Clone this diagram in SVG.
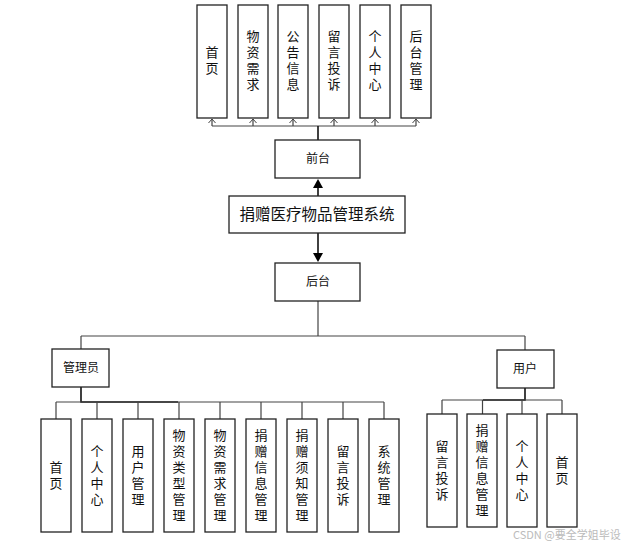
<svg xmlns="http://www.w3.org/2000/svg" width="632" height="546" viewBox="0 0 632 546">
<defs>
<style>
.box{fill:#fff;stroke:#222;stroke-width:1.3}
.ln{fill:none;stroke:#444;stroke-width:1.2}
.lk{fill:none;stroke:#111;stroke-width:1.6}
.t{font-family:"Noto Sans CJK SC","Liberation Sans",sans-serif;fill:#111;text-anchor:middle}
.v{font-size:13px;writing-mode:vertical-rl;letter-spacing:3px}
.s{font-size:12px}
.wm{font-family:"Noto Sans CJK SC","Liberation Sans",sans-serif;font-size:11px;fill:#bbb}
</style>
</defs>
<g id="connectors">
<path class="ln" d="M212,126 H416"/>
<path class="lk" d="M318,140 V126"/>
<path class="ln" d="M212,126 V119 M253,126 V119 M293,126 V119 M334,126 V119 M375,126 V119 M416,126 V119"/>
<path d="M208.5,123 L212,119 L215.5,123 M249.5,123 L253,119 L256.5,123 M289.5,123 L293,119 L296.5,123 M330.5,123 L334,119 L337.5,123 M371.5,123 L375,119 L378.5,123 M412.5,123 L416,119 L419.5,123" fill="none" stroke="#444" stroke-width="1"/>
<path class="lk" d="M318,196 V187"/>
<path d="M313,188 L323,188 L318,179 z" fill="#000"/>
<path class="lk" d="M318,233 V254"/>
<path d="M313,253 L323,253 L318,262 z" fill="#000"/>
<path class="ln" d="M318,301 V336 M81,336 H525 M81,336 V349 M525,336 V350"/>
<path class="lk" d="M81,387 V402 H178"/>
<path class="ln" d="M56,402 H384 M56,402 V419 M97,402 V419 M138,402 V419 M179,402 V419 M220,402 V419 M261,402 V419 M302,402 V419 M343,402 V419 M384,402 V419"/>
<path class="lk" d="M525,388 V400 H483"/>
<path class="ln" d="M442,400 H562 M442,400 V414 M482.5,400 V414 M522,400 V414 M562,400 V414"/>
</g>
<g id="top-items">
<g id="n-shouye"><rect class="box" x="197" y="5" width="30" height="113"/><text class="t v" x="212" y="62">首页</text></g>
<g id="n-wuzi"><rect class="box" x="238" y="5" width="30" height="113"/><text class="t v" x="253" y="62">物资需求</text></g>
<g id="n-gonggao"><rect class="box" x="278" y="5" width="30" height="113"/><text class="t v" x="293" y="62">公告信息</text></g>
<g id="n-liuyan"><rect class="box" x="319" y="5" width="30" height="113"/><text class="t v" x="334" y="62">留言投诉</text></g>
<g id="n-geren"><rect class="box" x="360" y="5" width="30" height="113"/><text class="t v" x="375" y="62">个人中心</text></g>
<g id="n-houtaiguanli"><rect class="box" x="401" y="5" width="30" height="113"/><text class="t v" x="416" y="62">后台管理</text></g>
</g>
<g id="n-qiantai"><rect class="box" x="275" y="140" width="85" height="38"/><text class="t s" x="318" y="163">前台</text></g>
<g id="n-main"><rect class="box" x="229" y="196" width="176" height="37"/><text class="t" style="font-size:15.5px" x="317" y="220">捐赠医疗物品管理系统</text></g>
<g id="n-houtai"><rect class="box" x="275" y="263" width="85" height="38"/><text class="t s" x="318" y="286">后台</text></g>
<g id="n-admin"><rect class="box" x="52" y="349" width="57" height="38"/><text class="t s" x="81" y="372">管理员</text></g>
<g id="n-user"><rect class="box" x="497" y="350" width="57" height="38"/><text class="t s" x="525" y="373">用户</text></g>
<g id="admin-items">
<g id="a1"><rect class="box" x="41" y="419" width="30" height="113"/><text class="t v" x="56" y="477">首页</text></g>
<g id="a2"><rect class="box" x="82" y="419" width="30" height="113"/><text class="t v" x="97" y="477">个人中心</text></g>
<g id="a3"><rect class="box" x="123" y="419" width="30" height="113"/><text class="t v" x="138" y="477">用户管理</text></g>
<g id="a4"><rect class="box" x="164" y="419" width="30" height="113"/><text class="t v" x="179" y="477">物资类型管理</text></g>
<g id="a5"><rect class="box" x="205" y="419" width="30" height="113"/><text class="t v" x="220" y="477">物资需求管理</text></g>
<g id="a6"><rect class="box" x="246" y="419" width="30" height="113"/><text class="t v" x="261" y="477">捐赠信息管理</text></g>
<g id="a7"><rect class="box" x="287" y="419" width="30" height="113"/><text class="t v" x="302" y="477">捐赠须知管理</text></g>
<g id="a8"><rect class="box" x="328" y="419" width="30" height="113"/><text class="t v" x="343" y="477">留言投诉</text></g>
<g id="a9"><rect class="box" x="369" y="419" width="30" height="113"/><text class="t v" x="384" y="477">系统管理</text></g>
</g>
<g id="user-items">
<g id="u1"><rect class="box" x="427" y="414" width="30" height="113"/><text class="t v" x="442" y="472">留言投诉</text></g>
<g id="u2"><rect class="box" x="467" y="414" width="30" height="113"/><text class="t v" x="482" y="472">捐赠信息管理</text></g>
<g id="u3"><rect class="box" x="507" y="414" width="30" height="113"/><text class="t v" x="522" y="472">个人中心</text></g>
<g id="u4"><rect class="box" x="547" y="414" width="30" height="113"/><text class="t v" x="562" y="472">首页</text></g>
</g>
<text class="wm" x="513" y="539">CSDN @要全学姐毕设</text>
</svg>
